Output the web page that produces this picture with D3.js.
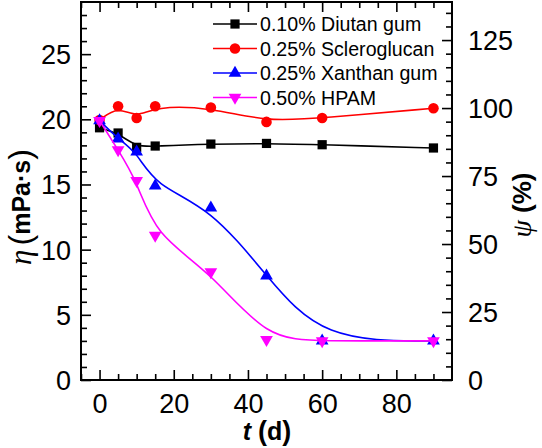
<!DOCTYPE html>
<html><head><meta charset="utf-8">
<script src="https://cdn.jsdelivr.net/npm/d3@7"></script>
<style>
html,body{margin:0;padding:0;background:#fff;}
svg{display:block;font-family:"Liberation Sans",Arial,sans-serif;}
</style></head>
<body><svg id="c" width="542" height="448"></svg>
<script>
const days = [0, 5, 10, 15, 30, 45, 60, 90];
const diutan = [19.35, 18.95, 17.85, 17.95, 18.1, 18.15, 18.05, 17.8];
const scleroglucan = [19.95, 21.0, 20.1, 21.0, 20.9, 19.8, 20.1, 20.85];
const xanthan = [19.9, 18.5, 17.5, 14.9, 13.2, 8.0, 3.0, 3.0];
const hpam = [19.9, 17.65, 15.3, 11.1, 8.3, 3.1, 3.0, 3.0];
const seriesNames = ["0.10% Diutan gum", "0.25% Scleroglucan", "0.25% Xanthan gum", "0.50% HPAM"];
const seriesColors = ["#000000", "#ff0000", "#0000ff", "#ff00ff"];
const xTicks = [0, 20, 40, 60, 80];
const yTicks = [0, 5, 10, 15, 20, 25];
const y2Ticks = [0, 25, 50, 75, 100, 125];

const svg = d3.select("#c");
const L = 81, R = 452, T = 2, B = 380;
const x = d3.scaleLinear().domain([-5, 95]).range([L, R]);
const y = d3.scaleLinear().domain([0, 29]).range([B, T]);
const y2 = d3.scaleLinear().domain([0, 139]).range([B, T]);

const major = 10, minor = 6;
function styleAxis(g){
  g.select(".domain").remove();
  g.selectAll(".tick line").attr("stroke","#000").attr("stroke-width",1.6);
}
const fs = 27;
// bottom major
svg.append("g").attr("transform",`translate(0,${B})`)
  .call(d3.axisBottom(x).tickValues(xTicks).tickSize(-major).tickPadding(0).tickFormat(d3.format("d")))
  .call(styleAxis)
  .call(g=>g.selectAll("text").attr("font-size",fs).attr("fill","#000").attr("font-family","Liberation Sans, Arial, sans-serif").attr("dy",null).attr("y",33));
svg.append("g").attr("transform",`translate(0,${B})`)
  .call(d3.axisBottom(x).tickValues(d3.range(-5,95,5).filter(v=>v%20!==0)).tickSize(-minor).tickFormat(""))
  .call(styleAxis);
// top
svg.append("g").attr("transform",`translate(0,${T})`)
  .call(d3.axisTop(x).tickValues(xTicks).tickSize(-major).tickFormat(""))
  .call(styleAxis);
svg.append("g").attr("transform",`translate(0,${T})`)
  .call(d3.axisTop(x).tickValues(d3.range(-5,95,5).filter(v=>v%20!==0)).tickSize(-minor).tickFormat(""))
  .call(styleAxis);
// left
svg.append("g").attr("transform",`translate(${L},0)`)
  .call(d3.axisLeft(y).tickValues(yTicks).tickSize(-major).tickPadding(0).tickFormat(d3.format("d")))
  .call(styleAxis)
  .call(g=>g.selectAll("text").attr("font-size",fs).attr("fill","#000").attr("font-family","Liberation Sans, Arial, sans-serif").attr("x",-10).attr("dy","0.35em"));
svg.append("g").attr("transform",`translate(${L},0)`)
  .call(d3.axisLeft(y).tickValues(d3.range(1,29,1).filter(v=>v%5!==0)).tickSize(-minor).tickFormat(""))
  .call(styleAxis);
// right
svg.append("g").attr("transform",`translate(${R},0)`)
  .call(d3.axisRight(y2).tickValues(y2Ticks).tickSize(-major).tickPadding(0).tickFormat(d3.format("d")))
  .call(styleAxis)
  .call(g=>g.selectAll("text").attr("font-size",fs).attr("fill","#000").attr("font-family","Liberation Sans, Arial, sans-serif").attr("x",16).attr("dy","0.35em"));
svg.append("g").attr("transform",`translate(${R},0)`)
  .call(d3.axisRight(y2).tickValues(d3.range(5,139,5).filter(v=>v%25!==0)).tickSize(-minor).tickFormat(""))
  .call(styleAxis);

// frame
svg.append("rect").attr("x",L).attr("y",T).attr("width",R-L).attr("height",B-T)
  .attr("fill","none").attr("stroke","#000").attr("stroke-width",2);

// data
const allSeries = [diutan, scleroglucan, xanthan, hpam];
const symbols = [d3.symbolSquare, d3.symbolCircle, d3.symbolTriangle, d3.symbolTriangle];
const sizes = [85, 88, 70, 70];
const rot = [0, 0, 0, 180];
const line = d3.line().x(d=>x(d[0])).y(d=>y(d[1])).curve(d3.curveBasis);

allSeries.forEach((vals,i)=>{
  const pts = days.map((d,j)=>[d, vals[j]]);
  const g = svg.append("g");
  g.append("path").attr("d", line(pts)).attr("fill","none").attr("stroke",seriesColors[i]).attr("stroke-width",1.6);
  g.selectAll("path.m").data(pts).enter().append("path").attr("class","m")
    .attr("d", d3.symbol().type(symbols[i]).size(sizes[i])())
    .attr("transform", d=>`translate(${x(d[0])},${y(d[1])}) rotate(${rot[i]})`)
    .attr("fill", seriesColors[i]);
});

// legend
const lg = svg.append("g");
seriesNames.forEach((n,i)=>{
  const yy = 24 + i*24.5;
  lg.append("line").attr("x1",213).attr("x2",257).attr("y1",yy).attr("y2",yy)
    .attr("stroke",seriesColors[i]).attr("stroke-width",1.6);
  lg.append("path").attr("d", d3.symbol().type(symbols[i]).size(sizes[i])())
    .attr("transform",`translate(235,${yy}) rotate(${rot[i]})`).attr("fill",seriesColors[i]);
  lg.append("text").attr("x",260).attr("y",yy).attr("dy","0.36em")
    .attr("font-size",19.6).attr("fill","#000").text(n);
});

// x title
const xt = svg.append("text").attr("x",267).attr("y",440).attr("text-anchor","middle")
  .attr("font-size",25).attr("font-weight","bold");
xt.append("tspan").attr("font-style","italic").text("t");
xt.append("tspan").text(" ");
xt.append("tspan").attr("font-size",27).text("(");
xt.append("tspan").text("d");
xt.append("tspan").attr("font-size",27).text(")");

// left title
const lt = svg.append("text").attr("transform","translate(31,207) rotate(-90)")
  .attr("text-anchor","middle");
lt.append("tspan").attr("font-family","Liberation Serif, Times New Roman, serif").attr("font-style","italic").attr("font-size",31).text("η");
lt.append("tspan").attr("font-size",32).attr("dx",4).text("(");
lt.append("tspan").attr("font-size",25).attr("font-weight","bold").attr("dy",-1).text("mPa·s");
lt.append("tspan").attr("font-size",32).attr("dy",1).text(")");

// right title
const rt = svg.append("text").attr("transform","translate(531,205) rotate(-90)")
  .attr("text-anchor","middle");
rt.append("tspan").attr("font-family","Liberation Serif, Times New Roman, serif").attr("font-style","italic").attr("font-size",28).text("ψ");
rt.append("tspan").attr("font-size",26).attr("font-weight","bold").text(" (%)");
</script></body></html>
